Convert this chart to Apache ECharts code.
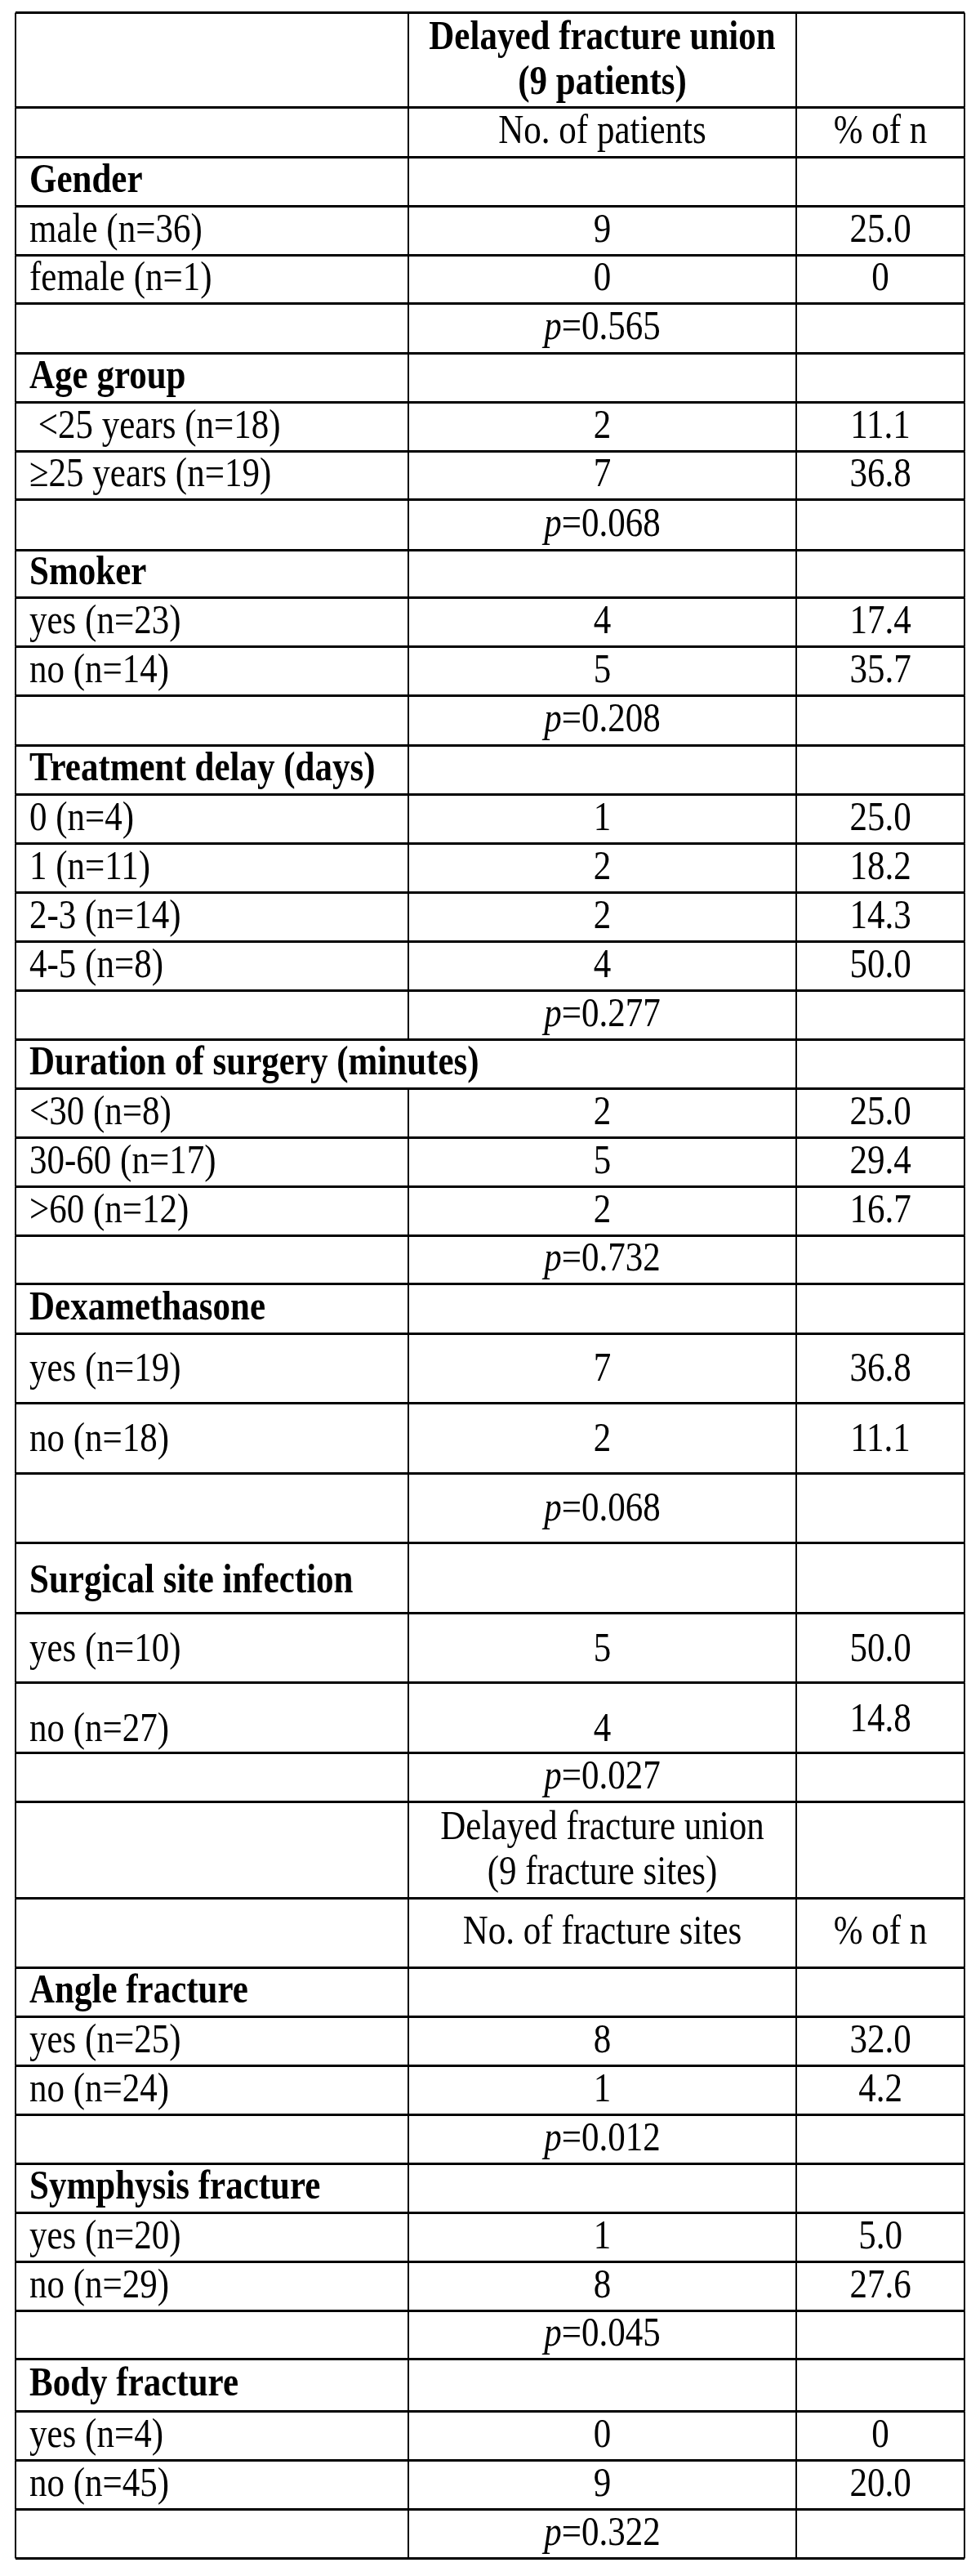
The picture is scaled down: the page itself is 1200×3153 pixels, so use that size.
<!DOCTYPE html>
<html><head><meta charset="utf-8">
<script src="https://cdn.jsdelivr.net/npm/echarts@6/dist/echarts.min.js"></script>
<style>html,body{margin:0;padding:0;background:#fff}#c{width:1200px;height:3153px}</style>
</head><body><div id="c"></div>
<script>
// ---------- DATA ----------
const headerTitle1 = ['Delayed fracture union', '(9 patients)'];
const headerSub1 = ['No. of patients', '% of n'];
const headerTitle2 = ['Delayed fracture union', '(9 fracture sites)'];
const headerSub2 = ['No. of fracture sites', '% of n'];
const groupTitles = ['Gender', 'Age group', 'Smoker', 'Treatment delay (days)', 'Duration of surgery (minutes)',
  'Dexamethasone', 'Surgical site infection', 'Angle fracture', 'Symphysis fracture', 'Body fracture'];
const groupLabels = [
  ['male (n=36)', 'female (n=1)'],
  [' <25 years (n=18)', '\u226525 years (n=19)'],
  ['yes (n=23)', 'no (n=14)'],
  ['0 (n=4)', '1 (n=11)', '2-3 (n=14)', '4-5 (n=8)'],
  ['<30 (n=8)', '30-60 (n=17)', '>60 (n=12)'],
  ['yes (n=19)', 'no (n=18)'],
  ['yes (n=10)', 'no (n=27)'],
  ['yes (n=25)', 'no (n=24)'],
  ['yes (n=20)', 'no (n=29)'],
  ['yes (n=4)', 'no (n=45)']
];
const groupCounts = [[9, 0], [2, 7], [4, 5], [1, 2, 2, 4], [2, 5, 2], [7, 2], [5, 4], [8, 1], [1, 8], [0, 9]];
const groupPercents = [[25.0, 0], [11.1, 36.8], [17.4, 35.7], [25.0, 18.2, 14.3, 50.0], [25.0, 29.4, 16.7],
  [36.8, 11.1], [50.0, 14.8], [32.0, 4.2], [5.0, 27.6], [0, 20.0]];
const pValues = ['0.565', '0.068', '0.208', '0.277', '0.732', '0.068', '0.027', '0.012', '0.045', '0.322'];
const secondHeaderBeforeGroup = 7;

// ---------- LAYOUT (table geometry, in axis units) ----------
const colEdges = [0, 481, 956, 1162];
const rowHeights = [116, 61, 60, 60, 59, 61, 60, 60, 59, 62, 58,
  60, 60, 61, 60, 60, 60, 60, 60, 60, 60, 60, 60, 60, 59,
  61, 85, 86, 85, 86, 85, 86, 60, 118,
  85, 60, 60, 60, 60, 60, 60, 60, 59, 64, 60, 60, 60];
const mergedTitleGroups = [4];
const cellNudge = { 26: [2, 2, 2], 27: [2, 2, 2], 28: [2, 2, 2], 29: [5, 0, 0], 30: [3, 3, 3], 31: [15, 15, 3] };

// ---------- BUILD ROWS ----------
const fmtPct = v => v === 0 ? '0' : v.toFixed(1);
const rows = [];
function pushHeader(title, sub, bold) {
  rows.push({ cells: [['', 1, 'n'], [title.join('\n'), 1, bold ? 'hb' : 'h'], ['', 1, 'n']] });
  rows.push({ cells: [['', 1, 'n'], [sub[0], 1, 'n'], [sub[1], 1, 'n']] });
}
pushHeader(headerTitle1, headerSub1, true);
groupTitles.forEach((t, g) => {
  if (g === secondHeaderBeforeGroup) pushHeader(headerTitle2, headerSub2, false);
  if (mergedTitleGroups.indexOf(g) >= 0) rows.push({ cells: [[t, 2, 'b'], ['', 1, 'n']] });
  else rows.push({ cells: [[t, 1, 'b'], ['', 1, 'n'], ['', 1, 'n']] });
  groupLabels[g].forEach((lab, i) => {
    rows.push({ cells: [[lab, 1, 'n'], [String(groupCounts[g][i]), 1, 'n'], [fmtPct(groupPercents[g][i]), 1, 'n']] });
  });
  rows.push({ cells: [['', 1, 'n'], ['{i|p}=' + pValues[g], 1, 'p'], ['', 1, 'n']] });
});

const rowEdges = [0];
rowHeights.forEach(h => rowEdges.push(rowEdges[rowEdges.length - 1] + h));
const totalH = rowEdges[rowEdges.length - 1];

const cellData = [], cellInfo = [];
rows.forEach((r, ri) => {
  let c = 0;
  r.cells.forEach((cell, k) => {
    cellData.push([ri, c, cell[1]]);
    cellInfo.push({ text: cell[0], kind: cell[2], nudge: (cellNudge[ri] || [0, 0, 0])[k] || 0 });
    c += cell[1];
  });
});

// ---------- CHART ----------
const FONT = "'Liberation Serif', 'Times New Roman', serif";
const STRETCH = 1.17;
const chart = echarts.init(document.getElementById('c'), null, { renderer: 'canvas' });
chart.setOption({
  animation: false,
  backgroundColor: '#ffffff',
  grid: { left: 19, right: 19, top: 15, bottom: 3153 - 15 - totalH },
  xAxis: { type: 'value', min: 0, max: colEdges[colEdges.length - 1], show: false },
  yAxis: { type: 'value', min: 0, max: totalH, inverse: true, show: false },
  series: [{
    type: 'custom',
    clip: false,
    data: cellData,
    renderItem: function (params, api) {
      const r = api.value(0), c = api.value(1), span = api.value(2);
      const info = cellInfo[params.dataIndex];
      const p0 = api.coord([colEdges[c], rowEdges[r]]);
      const p1 = api.coord([colEdges[c + span], rowEdges[r + 1]]);
      const x0 = Math.round(p0[0]), x1 = Math.round(p1[0]);
      const y0 = Math.round(p0[1]) + 0.5, y1 = Math.round(p1[1]) + 0.5;
      const ls = { stroke: '#000', lineWidth: 3 };
      const vs = { stroke: '#000', lineWidth: 2 };
      const children = [
        { type: 'line', shape: { x1: x0, y1: y0, x2: x1, y2: y0 }, style: ls },
        { type: 'line', shape: { x1: x0, y1: y1, x2: x1, y2: y1 }, style: ls },
        { type: 'line', shape: { x1: x0, y1: y0, x2: x0, y2: y1 }, style: vs },
        { type: 'line', shape: { x1: x1, y1: y0, x2: x1, y2: y1 }, style: vs }
      ];
      if (info.text) {
        const left = c === 0;
        let ty = (y0 + y1) / 2 + info.nudge;
        if (info.kind === 'h' || info.kind === 'hb') ty += 1;
        const ts = {
          text: info.text,
          x: 0,
          y: 0,
          align: left ? 'left' : 'center',
          verticalAlign: 'middle',
          fill: '#000',
          fontFamily: FONT,
          fontSize: 43,
          fontWeight: (info.kind === 'b' || info.kind === 'hb') ? 'bold' : 'normal',
          lineHeight: 47
        };
        if (info.kind === 'p') {
          ts.rich = { i: { fontStyle: 'italic', fontFamily: FONT, fontSize: 43, fill: '#000' } };
        }
        children.push({
          type: 'text', z2: 10,
          x: left ? x0 + 17 : (x0 + x1) / 2,
          y: ty,
          scaleX: 1,
          scaleY: STRETCH,
          style: ts
        });
      }
      return { type: 'group', children: children };
    }
  }]
});
</script>
</body></html>
